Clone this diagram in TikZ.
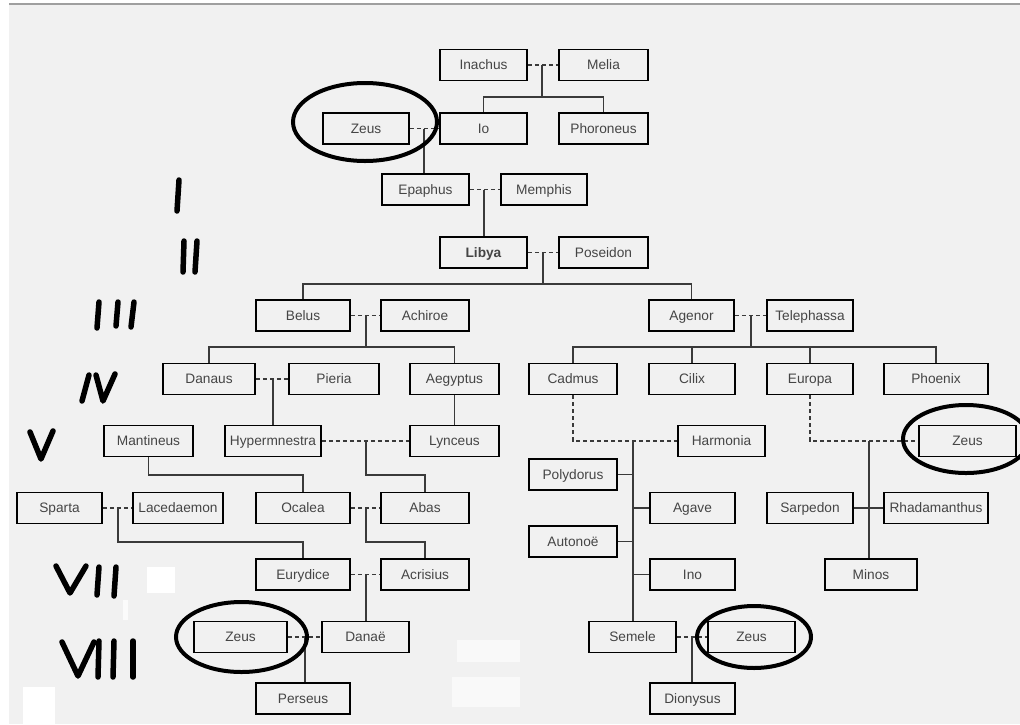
\documentclass[tikz,border=0pt]{standalone}
\usepackage{fontspec}
\setmainfont{Liberation Sans}
\definecolor{bg}{HTML}{F1F1F1}
\definecolor{txt}{HTML}{454545}
\definecolor{ln}{HTML}{3A3A3A}
\begin{document}
\begin{tikzpicture}[x=1pt,y=-1pt,
  box/.style={draw=black, line width=1.8pt, fill=bg, minimum height=31pt, inner sep=0pt, text height=12.3pt, text depth=2.5pt, text=txt, font=\fontsize{13.7}{16}\selectfont},
  conn/.style={draw=ln, line width=1.1pt},
  marr/.style={conn, dash pattern=on 4pt off 3pt},
  ring/.style={draw=black, line width=4pt},
  hand/.style={draw=black, line width=5.5pt, line cap=round, line join=round}]
\useasboundingbox (0,0) rectangle (1020,724);
\clip (0,0) rectangle (1020,724);
% background
\fill[white] (0,0) rectangle (1020,724);
\fill[bg] (9,5) rectangle (1020,724);
\draw[draw=gray!75, line width=1.5pt] (9,4) -- (1020,4);
\fill[white] (147,567) rectangle (175,593);
\fill[white] (23,687) rectangle (55,724);
\fill[white!55!bg] (457,640) rectangle (520,662);
\fill[white!55!bg] (452,677) rectangle (520,707);
\fill[white!70!bg] (123,600) rectangle (128,620);

% nodes
\node[box, minimum width=87pt] (inachus) at (483.5,65) {Inachus};
\node[box, minimum width=89pt] (melia) at (603.5,65) {Melia};
\node[box, minimum width=86pt] (zeusA) at (366,128.5) {Zeus};
\node[box, minimum width=87pt] (io) at (483.5,128.5) {Io};
\node[box, minimum width=89pt] (phoroneus) at (603.5,128.5) {Phoroneus};
\node[box, minimum width=87pt] (epaphus) at (425.5,189.5) {Epaphus};
\node[box, minimum width=86pt] (memphis) at (544,189.5) {Memphis};
\node[box, minimum width=87pt] (libya) at (483.5,252.5) {\textbf{Libya}};
\node[box, minimum width=89pt] (poseidon) at (603.5,252.5) {Poseidon};
\node[box, minimum width=94pt] (belus) at (303,315.5) {Belus};
\node[box, minimum width=88pt] (achiroe) at (425,315.5) {Achiroe};
\node[box, minimum width=85pt] (agenor) at (691.5,315.5) {Agenor};
\node[box, minimum width=86pt] (telephassa) at (810,315.5) {Telephassa};
\node[box, minimum width=92pt] (danaus) at (209,379) {Danaus};
\node[box, minimum width=90pt] (pieria) at (334,379) {Pieria};
\node[box, minimum width=89pt] (aegyptus) at (454.5,379) {Aegyptus};
\node[box, minimum width=88pt] (cadmus) at (573,379) {Cadmus};
\node[box, minimum width=86pt] (cilix) at (692,379) {Cilix};
\node[box, minimum width=86pt] (europa) at (810,379) {Europa};
\node[box, minimum width=104pt] (phoenix) at (936,379) {Phoenix};
\node[box, minimum width=89pt] (mantineus) at (148.5,441) {Mantineus};
\node[box, minimum width=96pt] (hypermnestra) at (273,441) {Hypermnestra};
\node[box, minimum width=89pt] (lynceus) at (454.5,441) {Lynceus};
\node[box, minimum width=87pt] (harmonia) at (721.5,441) {Harmonia};
\node[box, minimum width=97pt] (zeusB) at (967.5,441) {Zeus};
\node[box, minimum width=88pt] (polydorus) at (573,474.5) {Polydorus};
\node[box, minimum width=85pt] (sparta) at (59.5,508) {Sparta};
\node[box, minimum width=90pt] (lacedaemon) at (178,508) {Lacedaemon};
\node[box, minimum width=94pt] (ocalea) at (303,508) {Ocalea};
\node[box, minimum width=88pt] (abas) at (425,508) {Abas};
\node[box, minimum width=85pt] (agave) at (692.5,508) {Agave};
\node[box, minimum width=86pt] (sarpedon) at (810,508) {Sarpedon};
\node[box, minimum width=104pt] (rhadamanthus) at (936,508) {Rhadamanthus};
\node[box, minimum width=88pt] (autonoe) at (573,541.5) {Autonoë};
\node[box, minimum width=94pt] (eurydice) at (303,574.5) {Eurydice};
\node[box, minimum width=88pt] (acrisius) at (425,574.5) {Acrisius};
\node[box, minimum width=85pt] (ino) at (692.5,574.5) {Ino};
\node[box, minimum width=92pt] (minos) at (871,574.5) {Minos};
\node[box, minimum width=93pt] (zeusC) at (240.5,637) {Zeus};
\node[box, minimum width=87pt] (danae) at (365.5,637) {Danaë};
\node[box, minimum width=87pt] (semele) at (632.5,637) {Semele};
\node[box, minimum width=87pt] (zeusD) at (751.5,637) {Zeus};
\node[box, minimum width=94pt] (perseus) at (303,698.5) {Perseus};
\node[box, minimum width=85pt] (dionysus) at (692.5,698.5) {Dionysus};

% junction coordinates
\coordinate (j1) at (542,65);   \coordinate (m1) at (542,97);
\coordinate (j2) at (424,128.5);
\coordinate (j3) at (484,189.5);
\coordinate (j4) at (543,252.5); \coordinate (m4) at (543,284);
\coordinate (j5) at (366,315.5); \coordinate (m5) at (366,347);
\coordinate (j6) at (751,315.5); \coordinate (m6) at (751,347);
\coordinate (j7) at (273,379);
\coordinate (j9) at (366,441);   \coordinate (m9) at (366,475);
\coordinate (j11) at (118,508);  \coordinate (m11) at (118,542);
\coordinate (j12) at (366,508);  \coordinate (m12) at (366,542);
\coordinate (j13) at (366,574.5);
\coordinate (j14) at (305,637);
\coordinate (j15) at (633,441);
\coordinate (j16) at (869,441);
\coordinate (j17) at (692,637);

% connectors
\draw[marr] (inachus.east) -- (melia.west);
\draw[conn] (j1) -- (m1);
\draw[conn] (io.north) |- (m1) -| (phoroneus.north);
\draw[marr] (zeusA.east) -- (io.west);
\draw[conn] (j2) -- (j2 |- epaphus.north);
\draw[marr] (epaphus.east) -- (memphis.west);
\draw[conn] (j3) -- (j3 |- libya.north);
\draw[marr] (libya.east) -- (poseidon.west);
\draw[conn] (j4) -- (m4);
\draw[conn] (belus.north) |- (m4) -| (agenor.north);
\draw[marr] (belus.east) -- (achiroe.west);
\draw[conn] (j5) -- (m5);
\draw[conn] (danaus.north) |- (m5) -| (aegyptus.north);
\draw[marr] (agenor.east) -- (telephassa.west);
\draw[conn] (j6) -- (m6);
\draw[conn] (cadmus.north) |- (m6) -| (phoenix.north);
\draw[conn] (cilix.north) -- (cilix.north |- m6);
\draw[conn] (europa.north) -- (europa.north |- m6);
\draw[marr] (danaus.east) -- (pieria.west);
\draw[conn] (j7) -- (j7 |- hypermnestra.north);
\draw[conn] (aegyptus.south) -- (lynceus.north);
\draw[marr] (hypermnestra.east) -- (lynceus.west);
\draw[conn] (j9) -- (m9) -| (abas.north);
\draw[conn] (mantineus.south) |- (ocalea.north |- m9) -- (ocalea.north);
\draw[marr] (sparta.east) -- (lacedaemon.west);
\draw[conn] (j11) -- (m11) -| (eurydice.north);
\draw[marr] (ocalea.east) -- (abas.west);
\draw[conn] (j12) -- (m12) -| (acrisius.north);
\draw[marr] (eurydice.east) -- (acrisius.west);
\draw[conn] (j13) -- (j13 |- danae.north);
\draw[marr] (zeusC.east) -- (danae.west);
\draw[conn] (j14) -- (j14 |- perseus.north);
\draw[marr] (cadmus.south) |- (harmonia.west);
\draw[conn] (j15) -- (j15 |- semele.north);
\draw[conn] (polydorus.east) -- (polydorus.east -| j15);
\draw[conn] (agave.west) -- (agave.west -| j15);
\draw[conn] (autonoe.east) -- (autonoe.east -| j15);
\draw[conn] (ino.west) -- (ino.west -| j15);
\draw[marr] (europa.south) |- (zeusB.west);
\draw[conn] (j16) -- (j16 |- minos.north);
\draw[conn] (sarpedon.east) -- (rhadamanthus.west);
\draw[marr] (semele.east) -- (zeusD.west);
\draw[conn] (j17) -- (j17 |- dionysus.north);

% hand-drawn rings
\draw[ring] (365,122) ellipse [x radius=72pt, y radius=39pt];
\draw[ring] (241.5,637) ellipse [x radius=65.5pt, y radius=35pt];
\draw[ring] (754,637) ellipse [x radius=57pt, y radius=31pt];
\draw[ring] (966,439) ellipse [x radius=63pt, y radius=34pt];

% hand-drawn generation numerals
% I
\draw[hand] (179,180) -- (177,211);
% II
\draw[hand] (184,241) -- (183,272);
\draw[hand] (197,241) -- (195,272);
% III
\draw[hand] (99,302) -- (97,328);
\draw[hand] (118,302) -- (116,326);
\draw[hand] (134,302) -- (131,327);
% IV
\draw[hand] (89,375) -- (82,401);
\draw[hand] (96,375) -- (103,401) -- (115,374);
% V
\draw[hand] (30,432) -- (41,459) -- (53,431);
% VII
\draw[hand] (56,566) -- (70,593) -- (86,566);
\draw[hand] (99,567) -- (97,595);
\draw[hand] (116,567) -- (114,596);
% VIII
\draw[hand] (62,642) -- (78,676) -- (94,642);
\draw[hand] (99,641) -- (98,677);
\draw[hand] (114,641) -- (113,677);
\draw[hand] (133,641) -- (133,677);
\end{tikzpicture}
\end{document}
